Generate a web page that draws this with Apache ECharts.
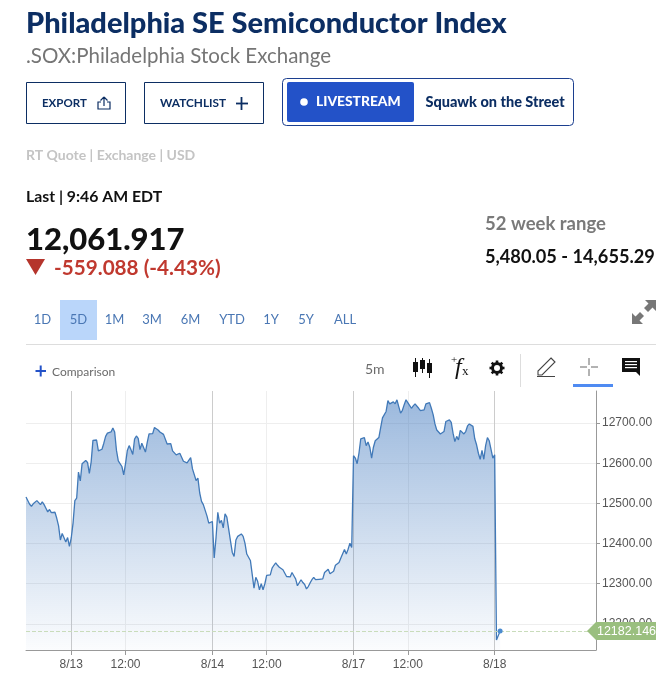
<!DOCTYPE html>
<html><head><meta charset="utf-8">
<style>html,body{margin:0;padding:0;background:#fff}#c{width:668px;height:678px}</style>
<script src="https://cdn.jsdelivr.net/npm/echarts@6/dist/echarts.min.js"></script>
</head><body><div id="c"></div>
<script>
const titleText = 'Philadelphia SE Semiconductor Index';
const subtitleText = '.SOX:Philadelphia Stock Exchange';
const rangeTabs = ['1D','5D','1M','3M','6M','YTD','1Y','5Y','ALL'];
const tickIndex = [25,55,103,133,181,211,259];
const tickLabels = ['8/13','12:00','8/14','12:00','8/17','12:00','8/18'];
const yTicks = [12200,12300,12400,12500,12600,12700];
const slotCount = 316;
const lastValue = 12182.146;
const prices = [
12516,12517,12498,12493,12499,12498,12507,12503,12497,12504,12497,12488,12479,12485,12477,12474,12478,12463,12444,12409,12425,12421,12404,12415,12393,
12414,12451,12507,12513,12578,12556,12599,12602,12607,12602,12575,12603,12657,12658,12658,12631,12632,12635,12650,12667,12675,12677,12678,12688,12678,
12632,12606,12605,12592,12571,12599,12632,12644,12634,12622,12660,12668,12662,12634,12650,12646,12628,12652,12673,12673,12674,12689,12687,12683,12678,12675,12672,12669,
12648,12649,12649,12631,12629,12621,12619,12625,12624,12605,12603,12601,12600,12614,12586,12585,12557,12563,12526,12505,12497,12493,12469,12451,12447,
12455,12364,12414,12478,12451,12458,12439,12474,12466,12468,12407,12378,12368,12409,12418,12422,12424,12418,12401,12374,12370,12358,12354,12289,12316,12306,12285,12300,12285,12300,
12321,12318,12322,12339,12346,12352,12346,12341,12337,12335,12332,12318,12314,12317,12328,12320,12312,12295,12297,12310,12303,12298,12287,12293,12302,12310,12316,12310,12310,12311,12312,12312,12328,12331,12336,12325,12321,12331,12346,12346,12353,12364,12368,12385,12374,12386,12401,12390,
12619,12613,12599,12625,12661,12663,12664,12644,12653,12640,12613,12640,12656,12660,12664,12689,12713,12714,12729,12756,12748,12748,12753,12748,12758,12741,12725,12732,12746,12758,12751,12750,12737,12743,12748,12750,12737,12731,12733,12733,12748,12752,12751,12737,12721,12698,12683,12678,12673,12675,12679,12704,12707,12708,12702,12675,12654,12667,12658,12682,12679,12673,12679,12693,12698,12700,12692,12661,12646,12625,12610,12632,12610,12644,12664,12656,12653,12613,
12621,12160,12160,12182
];
const categories = Array.from({length: slotCount}, (_, i) => String(i));

const NAVY = '#0c2e63', SANS = 'Lato', ARIAL = '"Liberation Sans", Arial';
const txt = (text, x, y, size, weight, fill, extra) => ({
  type: 'text', silent: true, x, y,
  style: Object.assign({text, fontFamily: SANS, fontSize: size, fontWeight: weight, fill, verticalAlign: 'middle', align: 'left'}, extra || {})
});
const rect = (x, y, w, h, st, r) => ({type: 'rect', silent: true, shape: {x, y, width: w, height: h, r: r || 0}, style: st});
const line = (x1, y1, x2, y2, stroke, w) => ({type: 'line', silent: true, shape: {x1, y1, x2, y2}, style: {stroke, lineWidth: w || 1}});
let pathCount = 0;
const path = (d, x, y, st) => {
  const name = 'icon' + (pathCount++);
  echarts.graphic.registerShape(name, echarts.graphic.extendPath(d));
  return {type: name, silent: true, x, y, style: st};
};

const tabCenters = [42.5,78.5,114.5,152,190.5,232,271,306,345];
const gears = [];
for (let a = 0; a < 8; a++) {
  const t = a * Math.PI / 4;
  gears.push(line(497 + 4 * Math.cos(t), 368 + 4 * Math.sin(t), 497 + 7.5 * Math.cos(t), 368 + 7.5 * Math.sin(t), '#111', 2.6));
}
const graphics = [
  txt(subtitleText, 26, 56, 20.5, 400, '#757575'),
  rect(26.5, 82.5, 99, 41, {fill: '#fff', stroke: NAVY, lineWidth: 1}),
  txt('EXPORT', 42, 103.5, 11.5, 700, NAVY),
  path('M6 0L2.5 3.5M6 0L9.5 3.5M6 0V9M3 5H0V12H12V5H9', 98, 97, {fill: 'none', stroke: NAVY, lineWidth: 1.2}),
  rect(144.5, 82.5, 119, 41, {fill: '#fff', stroke: NAVY, lineWidth: 1}),
  txt('WATCHLIST', 160, 103.5, 11.8, 700, NAVY),
  line(241.5, 97, 241.5, 110, NAVY, 1.8), line(236, 103.5, 248, 103.5, NAVY, 1.8),
  rect(282.5, 78.5, 291, 47, {fill: '#fff', stroke: '#1c3f8f', lineWidth: 1}, 4),
  rect(287, 82, 127, 40, {fill: '#2352c8'}, 2),
  {type: 'circle', silent: true, shape: {cx: 304, cy: 102, r: 3.8}, style: {fill: '#fff'}},
  txt('LIVESTREAM', 316, 101.5, 13.8, 900, '#fff'),
  txt('Squawk on the Street', 425.5, 102.5, 14.5, 900, NAVY),
  txt('RT Quote | Exchange | USD', 26, 155, 14, 700, '#c4c4c4'),
  txt('Last | 9:46 AM EDT', 26, 197, 15.8, 700, '#111'),
  txt('12,061.917', 26, 240, 31, 900, '#111'),
  path('M0 0H19L9.5 16Z', 26, 259, {fill: '#b5352c'}),
  txt('-559.088 (-4.43%)', 54, 268.5, 20.7, 700, '#c0392f'),
  txt('52 week range', 485, 224, 18.5, 700, '#7a7a7a'),
  txt('5,480.05 - 14,655.29', 485, 257, 18.2, 700, '#111'),
  rect(60, 300, 37, 40, {fill: '#bad6fa'}),
  ...rangeTabs.map((t, i) => txt(t, tabCenters[i], 320, 13, 400, '#4a77b4', {align: 'center'})),
  path('M13 0H24V11L20.5 7.5L16 12L12 8L16.5 3.5ZM0 24V13L3.5 16.5L8 12L12 16L7.5 20.5L11 24Z', 632, 300, {fill: '#777'}),
  line(26, 344.5, 656, 344.5, '#ddd', 1),
  line(35.5, 371, 46, 371, '#2352c8', 2), line(40.7, 365.5, 40.7, 376.5, '#2352c8', 2),
  txt('Comparison', 52, 372, 12, 400, '#6b6b6b'),
  txt('5m', 365, 369, 14, 400, '#6b6b6b'),
  path('M2 0V4H0V14H2V19H3V14H5V4H3V0ZM9 0V2H7V11H9V15H10V11H12V2H10V0ZM16 1V5H14V15H16V20H17V15H19V5H17V1Z', 413, 358, {fill: '#111'}),
  txt('+', 451, 360, 11, 400, '#111', {fontFamily: '"Liberation Serif"'}),
  txt('f', 455, 368, 24, 400, '#111', {fontFamily: '"Liberation Serif"', fontStyle: 'italic'}),
  txt('x', 462, 372, 13, 400, '#111', {fontFamily: '"Liberation Serif"'}),
  {type: 'circle', silent: true, shape: {cx: 497, cy: 368, r: 4.5}, style: {fill: 'none', stroke: '#111', lineWidth: 3}},
  ...gears,
  line(520.5, 354, 520.5, 387, '#ddd', 1),
  path('M14 0L18 4L5 17H1V13ZM0 18.5H18', 537, 358, {fill: 'none', stroke: '#444', lineWidth: 1.1}),
  line(589, 358, 589, 365, '#666', 1), line(589, 369, 589, 376, '#666', 1), line(580, 367, 587, 367, '#666', 1), line(591, 367, 598, 367, '#666', 1),
  rect(573, 384, 40, 3, {fill: '#4f8bf2'}),
  path('M0 0H18V18L14 14H0Z', 622, 358, {fill: '#111'}),
  rect(625, 361, 12, 1.2, {fill: '#fff'}), rect(625, 364, 12, 1.2, {fill: '#fff'}), rect(625, 367, 12, 1.2, {fill: '#fff'}),
];

const chart = echarts.init(document.getElementById('c'), null, {renderer: 'canvas'});
chart.setOption({
  animation: false,
  title: {text: titleText, left: 26, top: 9, padding: 0, textStyle: {fontFamily: SANS, fontSize: 29, fontWeight: 900, color: NAVY}},
  grid: {left: 26, right: 72, top: 391, bottom: 28, containLabel: false},
  xAxis: {
    type: 'category', data: categories, boundaryGap: false,
    axisLine: {lineStyle: {color: '#999'}},
    axisTick: {length: 5, lineStyle: {color: '#999'}, customValues: tickIndex},
    axisLabel: {customValues: tickIndex, margin: 9, color: '#555', fontFamily: ARIAL, fontSize: 12,
      formatter: v => tickLabels[tickIndex.indexOf(Number(v))] || ''},
    splitLine: {show: true, lineStyle: {color: ['#cccccc', '#eeeeee']}}
  },
  yAxis: {
    type: 'value', position: 'right', min: 12135, max: 12780, scale: true,
    axisLine: {show: true, lineStyle: {color: '#999'}},
    axisTick: {show: true, length: 4, lineStyle: {color: '#999'}, customValues: yTicks},
    axisLabel: {customValues: yTicks, margin: 6, color: '#555', fontFamily: ARIAL, fontSize: 12, formatter: v => Number(v).toFixed(2)},
    splitLine: {show: true, lineStyle: {color: '#eeeeee'}}
  },
  series: [{
    type: 'line', data: prices, showSymbol: false, silent: true, clip: false,
    lineStyle: {color: '#4179b8', width: 1.3},
    areaStyle: {opacity: 1, color: new echarts.graphic.LinearGradient(0, 0, 0, 1, [
      {offset: 0, color: 'rgba(58,116,188,0.5)'}, {offset: 1, color: 'rgba(58,116,188,0.02)'}])},
    markLine: {silent: true, symbol: 'none', label: {show: false}, animation: false,
      lineStyle: {color: '#c9dcbb', type: 'dashed', width: 1}, data: [{yAxis: lastValue}]},
    markPoint: {silent: true, animation: false, data: [
      {coord: [prices.length - 1, lastValue], symbol: 'circle', symbolSize: 5, itemStyle: {color: '#4a8bd0'}, label: {show: false}},
      {coord: [slotCount - 1, lastValue], symbol: 'path://M0 9L9 0H69V18H9Z', symbolSize: [69, 18], symbolKeepAspect: false, symbolOffset: [25.5, 0],
        itemStyle: {color: '#9abf7f'},
        label: {show: true, position: 'inside', offset: [5, 0], formatter: () => lastValue.toFixed(3), color: '#fff', fontFamily: ARIAL, fontSize: 12.5}}
    ]}
  }],
  graphic: graphics
});
</script></body></html>
